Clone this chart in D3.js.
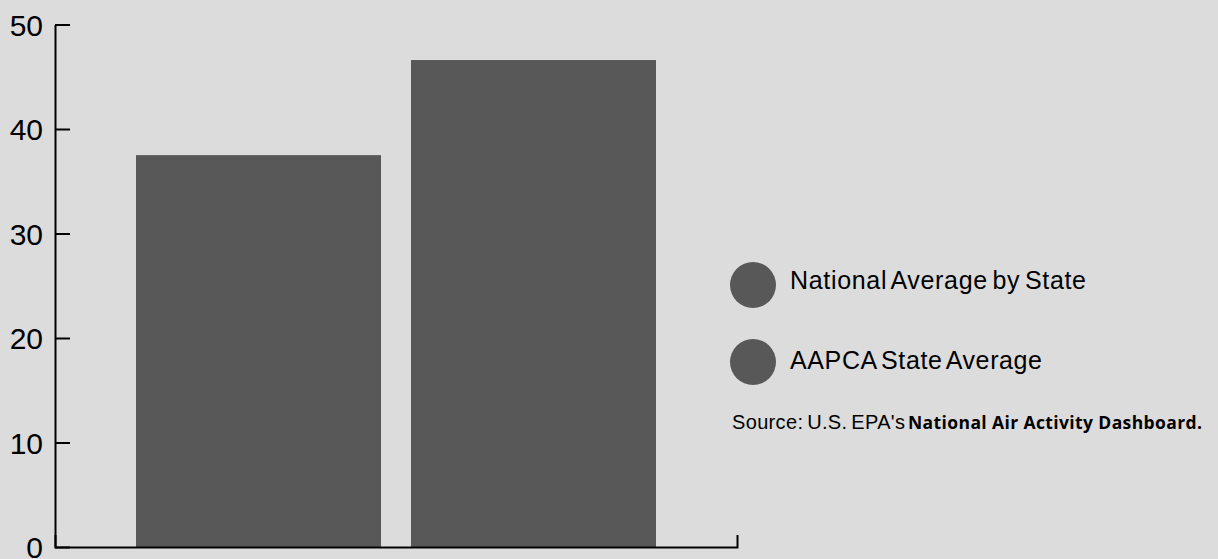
<!DOCTYPE html>
<html>
<head>
<meta charset="utf-8">
<script src="https://cdn.jsdelivr.net/npm/d3@7"></script>
<style>
  html, body { margin: 0; padding: 0; background: #dcdcdc; }
  svg { display: block; }
</style>
</head>
<body>
<svg id="chart" width="1218" height="559"></svg>
<script>
const categories = ["National Average by State", "AAPCA State Average"];
const values = [37.5, 46.6];
const yTicks = [0, 10, 20, 30, 40, 50];
const legendLabels = ["National Average by State", "AAPCA State Average"];
const sourcePrefix = "Source: U.S. EPA's";
const sourceBold = "National Air Activity Dashboard.";

const barColor = "#585858";
const svg = d3.select("#chart");

const x = d3.scaleBand().domain(categories).range([55, 737])
  .paddingInner(30 / 275).paddingOuter(81 / 275);
const y = d3.scaleLinear().domain([0, 50]).range([547, 24.5]);

svg.append("g").selectAll("rect").data(values).join("rect")
  .attr("x", (d, i) => x(categories[i]))
  .attr("width", x.bandwidth())
  .attr("y", d => y(d))
  .attr("height", d => y(0) - y(d))
  .attr("fill", barColor);

const yAxis = svg.append("g").attr("transform", "translate(55,0)")
  .call(d3.axisLeft(y).tickValues(yTicks).tickSizeInner(-15).tickSizeOuter(0).tickPadding(12));
yAxis.selectAll("path, line").attr("stroke", "#000").attr("stroke-width", 2);
yAxis.selectAll("text").attr("font-family", "Liberation Sans, Arial, sans-serif")
  .attr("font-size", 30).attr("fill", "#000").attr("dy", "0.36em");

const xAxis = svg.append("g").attr("transform", "translate(0,547)")
  .call(d3.axisBottom(x).tickValues([]).tickSizeOuter(-12));
xAxis.selectAll("path").attr("stroke", "#000").attr("stroke-width", 2);

const legY = [285, 362];
const legBase = [289, 369];
const legLen = [296, 252];
const leg = svg.append("g");
legendLabels.forEach((lab, i) => {
  leg.append("circle").attr("cx", 753).attr("cy", legY[i]).attr("r", 23).attr("fill", barColor);
  leg.append("text").attr("x", 790).attr("y", legBase[i])
    .attr("font-family", "Liberation Sans, Arial, sans-serif").attr("font-size", 25)
    .attr("word-spacing", "-3px")
    .attr("textLength", legLen[i]).attr("lengthAdjust", "spacing")
    .attr("fill", "#000").text(lab);
});

svg.append("text").attr("x", 732).attr("y", 429).attr("fill", "#000")
  .attr("font-family", "Liberation Sans, Arial, sans-serif").attr("font-size", 20)
  .attr("word-spacing", "-2px")
  .attr("textLength", 173).attr("lengthAdjust", "spacing")
  .text(sourcePrefix);
svg.append("text").attr("x", 908).attr("y", 429).attr("fill", "#000")
  .attr("font-family", "Open Sans, sans-serif").attr("font-weight", 700).attr("font-size", 17.5)
  .attr("textLength", 294).attr("lengthAdjust", "spacing")
  .text(sourceBold);
</script>
</body>
</html>
